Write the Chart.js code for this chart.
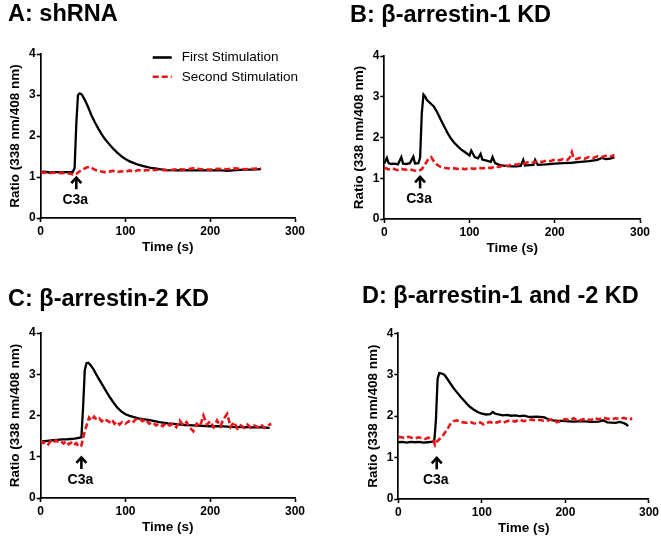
<!DOCTYPE html>
<html><head><meta charset="utf-8">
<script src="https://cdn.jsdelivr.net/npm/chart.js@4.4.0/dist/chart.umd.min.js"></script>
<style>
body{margin:0;background:#fff;width:661px;height:541px;position:relative;overflow:hidden;font-family:"Liberation Sans",Arial,sans-serif}
canvas{position:absolute}
.title{position:absolute;font-weight:bold;font-size:23.5px;white-space:nowrap;line-height:1;color:#000;z-index:2}
</style></head><body>
<canvas id="cA" width="330" height="270" style="left:0;top:0"></canvas>
<canvas id="cB" width="331" height="270" style="left:330px;top:0"></canvas>
<canvas id="cC" width="330" height="271" style="left:0;top:270px"></canvas>
<canvas id="cD" width="331" height="271" style="left:330px;top:270px"></canvas>
<div class="title" style="left:8px;top:2px">A: shRNA</div>
<div class="title" style="left:350px;top:3px">B: β-arrestin-1 KD</div>
<div class="title" style="left:8px;top:287px">C: β-arrestin-2 KD</div>
<div class="title" style="left:362px;top:284px">D: β-arrestin-1 and -2 KD</div>
<script>
// ---------- data ----------
const seriesNames = ['First Stimulation', 'Second Stimulation'];
const xTicks = [0, 100, 200, 300];
const yTicks = [0, 1, 2, 3, 4];
const xTitle = 'Time (s)';
const yTitle = 'Ratio (338 nm/408 nm)';
const stimLabel = 'C3a';
const stimTimes = [42, 42, 48, 46];        // A, B, C, D
const stimValues = [1.02, 1.07, 1.02, 1.03];

// Panel A
const tA1 = [0,5,10,15,20,25,30,35,38,40,42,44,46,48,50,53,56,60,64,68,72,76,80,85,90,95,100,105,110,115,120,125,130,135,140,145,150,160,170,180,190,200,210,220,230,240,250,260];
const vA1 = [1.12,1.13,1.11,1.12,1.12,1.11,1.12,1.12,1.13,1.22,2.3,3.0,3.04,3.02,2.96,2.84,2.7,2.5,2.33,2.18,2.04,1.92,1.82,1.7,1.6,1.51,1.44,1.38,1.34,1.3,1.27,1.25,1.22,1.21,1.19,1.18,1.17,1.16,1.17,1.16,1.17,1.16,1.17,1.15,1.17,1.18,1.18,1.19];
const tA2 = [0,5,10,15,20,25,30,35,40,43,46,50,54,58,62,66,70,75,80,85,90,95,100,105,110,115,120,125,130,140,150,160,170,180,190,200,210,220,230,240,250,260];
const vA2 = [1.1,1.11,1.09,1.11,1.1,1.09,1.1,1.08,1.05,1.09,1.14,1.19,1.23,1.25,1.2,1.16,1.14,1.12,1.13,1.15,1.12,1.14,1.13,1.16,1.13,1.17,1.15,1.17,1.16,1.18,1.16,1.19,1.18,1.21,1.19,1.18,1.2,1.19,1.21,1.19,1.2,1.21];

// Panel B
const tB1 = [0,3,5,8,12,16,20,22,26,30,34,36,40,42,44,46,48,50,54,58,62,66,70,74,78,82,86,90,94,98,100,102,106,110,113,115,120,125,127,130,135,140,145,150,155,160,163,165,170,175,177,180,190,200,210,220,230,240,250,255,260,265,270];
const vB1 = [1.36,1.5,1.37,1.35,1.36,1.34,1.52,1.36,1.35,1.37,1.53,1.36,1.37,1.5,2.6,3.05,3.0,2.92,2.84,2.76,2.62,2.45,2.28,2.12,1.98,1.87,1.79,1.71,1.65,1.59,1.56,1.68,1.52,1.49,1.6,1.46,1.43,1.4,1.52,1.37,1.33,1.31,1.3,1.29,1.29,1.3,1.45,1.31,1.32,1.33,1.45,1.33,1.34,1.36,1.37,1.38,1.4,1.42,1.45,1.5,1.47,1.48,1.52];
const tB2 = [0,5,10,15,20,25,30,35,40,44,48,52,55,58,62,66,70,75,80,85,90,95,100,105,110,115,120,125,130,135,140,145,150,155,160,165,170,175,180,185,190,195,200,205,210,215,218,220,222,225,230,235,240,245,250,255,260,265,270];
const vB2 = [1.26,1.22,1.24,1.2,1.23,1.21,1.22,1.19,1.18,1.22,1.35,1.48,1.52,1.42,1.33,1.28,1.26,1.24,1.25,1.23,1.24,1.22,1.25,1.23,1.26,1.24,1.27,1.25,1.29,1.28,1.32,1.3,1.34,1.33,1.36,1.37,1.4,1.38,1.42,1.4,1.43,1.42,1.46,1.44,1.47,1.45,1.52,1.64,1.5,1.47,1.5,1.48,1.52,1.5,1.54,1.52,1.55,1.53,1.57];

// Panel C
const tC1 = [0,5,10,15,20,25,30,35,40,45,48,50,52,54,56,58,62,66,70,74,78,82,86,90,95,100,105,110,115,120,125,130,140,150,160,170,180,190,200,210,220,230,240,250,260,270];
const vC1 = [1.37,1.38,1.39,1.4,1.41,1.42,1.42,1.43,1.44,1.46,1.47,2.2,3.1,3.27,3.28,3.24,3.13,2.98,2.84,2.7,2.56,2.43,2.31,2.2,2.1,2.03,1.99,1.96,1.93,1.91,1.9,1.88,1.84,1.81,1.79,1.77,1.76,1.75,1.74,1.74,1.73,1.72,1.72,1.71,1.71,1.7];
const tC2 = [0,3,6,9,12,15,18,21,24,27,30,33,36,39,42,45,48,50,52,54,57,60,63,66,69,72,75,78,81,84,87,90,93,96,100,104,108,112,116,120,124,128,132,136,140,144,148,152,156,160,164,168,172,176,180,184,188,192,196,200,204,208,212,216,220,224,228,232,236,240,244,248,252,256,260,264,268,272];
const vC2 = [1.4,1.33,1.36,1.3,1.38,1.34,1.4,1.35,1.37,1.32,1.38,1.3,1.34,1.28,1.33,1.24,1.27,1.45,1.62,1.75,1.95,1.88,1.97,1.9,1.93,1.86,1.92,1.88,1.84,1.9,1.8,1.85,1.78,1.84,1.8,1.86,1.82,1.9,1.94,1.86,1.9,1.8,1.84,1.76,1.8,1.74,1.82,1.76,1.8,1.72,1.88,1.76,1.84,1.7,1.62,1.8,1.74,2.0,1.78,1.86,1.72,1.88,1.74,1.92,2.04,1.72,1.84,1.68,1.76,1.7,1.78,1.7,1.76,1.72,1.78,1.7,1.76,1.8];

// Panel D
const tD1 = [0,5,10,15,20,25,30,35,40,43,45,47,49,52,55,58,62,66,70,74,78,82,86,90,95,100,105,110,113,116,120,125,130,135,140,145,150,155,160,165,170,175,180,185,190,200,210,220,230,240,245,250,260,265,270,273,275];
const vD1 = [1.37,1.38,1.36,1.38,1.37,1.38,1.36,1.37,1.38,1.38,1.9,2.9,3.04,3.03,3.0,2.92,2.8,2.68,2.58,2.48,2.39,2.3,2.22,2.16,2.1,2.06,2.04,2.05,2.1,2.06,2.04,2.02,2.03,2.01,2.02,2.0,2.01,1.99,1.98,1.99,1.98,1.97,1.92,1.9,1.89,1.88,1.87,1.88,1.86,1.87,1.9,1.85,1.84,1.86,1.83,1.8,1.76];
const tD2 = [0,4,8,12,16,20,24,28,32,36,40,42,44,46,50,54,58,62,66,70,74,78,82,86,90,94,98,102,106,110,114,118,122,126,130,135,140,145,150,155,160,165,170,175,180,185,190,195,200,205,210,215,220,225,230,235,240,245,250,255,260,265,270,275,280];
const vD2 = [1.5,1.49,1.47,1.5,1.48,1.46,1.49,1.47,1.45,1.48,1.45,1.4,1.3,1.38,1.46,1.55,1.66,1.8,1.88,1.9,1.86,1.85,1.84,1.86,1.83,1.82,1.85,1.8,1.84,1.86,1.82,1.85,1.87,1.84,1.88,1.9,1.87,1.92,1.88,1.9,1.92,1.89,1.91,1.88,1.9,1.93,1.85,1.89,1.93,1.9,1.95,1.88,1.92,1.94,1.9,1.96,1.92,1.97,1.94,1.92,1.95,1.93,1.96,1.92,1.94];

// ---------- drawing ----------
const FONT = '"Liberation Sans", Arial, sans-serif';
const RED = 'rgb(232,22,24)';
const zip = (t, v) => t.map((x, i) => ({x: x, y: v[i]}));

const arrowPlugin = {
  id: 'stim',
  afterDatasetsDraw(chart, args, opts) {
    const {ctx, scales: {x, y}} = chart;
    const px = x.getPixelForValue(opts.t), py = y.getPixelForValue(opts.v);
    ctx.save();
    ctx.strokeStyle = '#000'; ctx.lineWidth = 2.6; ctx.lineCap = 'butt'; ctx.lineJoin = 'miter';
    ctx.beginPath(); ctx.moveTo(px, py + 1); ctx.lineTo(px, py + 13); ctx.stroke();
    ctx.beginPath(); ctx.moveTo(px - 5, py + 7); ctx.lineTo(px, py + 1.5); ctx.lineTo(px + 5, py + 7); ctx.stroke();
    ctx.fillStyle = '#000'; ctx.font = 'bold 14px ' + FONT;
    ctx.textAlign = 'center'; ctx.textBaseline = 'middle';
    ctx.fillText(opts.label, px - 1, py + 24);
    ctx.restore();
  }
};

const legendPlugin = {
  id: 'inlegend',
  afterDraw(chart, args, opts) {
    if (!opts.show) return;
    const {ctx, chartArea} = chart;
    chart.data.datasets.forEach((ds, i) => {
      const y = chartArea.top + 3.5 + i * 19.3;
      const x0 = chartArea.left + 112;
      ctx.save();
      ctx.strokeStyle = ds.borderColor; ctx.lineWidth = 2.6;
      ctx.setLineDash(ds.borderDash || []);
      ctx.beginPath(); ctx.moveTo(x0, y); ctx.lineTo(x0 + 19, y); ctx.stroke();
      ctx.setLineDash([]);
      ctx.fillStyle = '#000'; ctx.font = '13.5px ' + FONT;
      ctx.textBaseline = 'middle'; ctx.textAlign = 'left';
      ctx.fillText(ds.label, x0 + 29, y);
      ctx.restore();
    });
  }
};

const Y_W = 33.3, X_H = 37.8;
function makeChart(id, area, s1, s2, idx, showLegend) {
  const cv = document.getElementById(id);
  const W = cv.width, H = cv.height;
  const tickFont = {family: FONT, size: 12, weight: 'bold'};
  const titleFont = {family: FONT, size: 13.5, weight: 'bold'};
  const grid = {drawOnChartArea: false, drawTicks: true, tickLength: 4, tickColor: '#000', tickWidth: 1.6};
  const border = {display: true, color: '#000', width: 1.7};
  new Chart(cv.getContext('2d'), {
    type: 'line',
    data: {datasets: [
      {label: seriesNames[0], data: s1, borderColor: '#000', borderWidth: 2.3, pointRadius: 0, tension: 0, order: 1},
      {label: seriesNames[1], data: s2, borderColor: RED, borderWidth: 2.6, borderDash: [6, 3], pointRadius: 0, tension: 0, order: 0}
    ]},
    options: {
      responsive: false, animation: false, devicePixelRatio: 1,
      layout: {padding: {left: area.l - Y_W, top: area.t, right: W - area.r, bottom: H - area.b - X_H}},
      plugins: {legend: {display: false}, tooltip: {enabled: false}, title: {display: false},
        stim: {t: stimTimes[idx], v: stimValues[idx], label: stimLabel},
        inlegend: {show: showLegend}},
      scales: {
        x: {type: 'linear', min: 0, max: 300,
          afterFit(s) { s.height = X_H; },
          afterBuildTicks(s) { s.ticks = xTicks.map(v => ({value: v})); },
          ticks: {font: tickFont, color: '#000', padding: 2, maxRotation: 0, autoSkip: false},
          grid: grid, border: border,
          title: {display: true, text: xTitle, font: titleFont, color: '#000', padding: 0}},
        y: {type: 'linear', min: 0, max: 4,
          afterFit(s) { s.width = Y_W; },
          afterBuildTicks(s) { s.ticks = yTicks.map(v => ({value: v})); },
          ticks: {font: tickFont, color: '#000', padding: 1, autoSkip: false},
          grid: grid, border: border,
          title: {display: true, text: yTitle, font: titleFont, color: '#000', padding: 0}}
      }
    },
    plugins: [arrowPlugin, legendPlugin]
  });
}

makeChart('cA', {l: 40.7, t: 54, r: 295, b: 218}, zip(tA1, vA1), zip(tA2, vA2), 0, true);
makeChart('cB', {l: 54.3, t: 56, r: 310, b: 219}, zip(tB1, vB1), zip(tB2, vB2), 1, false);
makeChart('cC', {l: 40.7, t: 63, r: 295, b: 228}, zip(tC1, vC1), zip(tC2, vC2), 2, false);
makeChart('cD', {l: 68.3, t: 63.3, r: 320, b: 229}, zip(tD1, vD1), zip(tD2, vD2), 3, false);
</script>
</body></html>
